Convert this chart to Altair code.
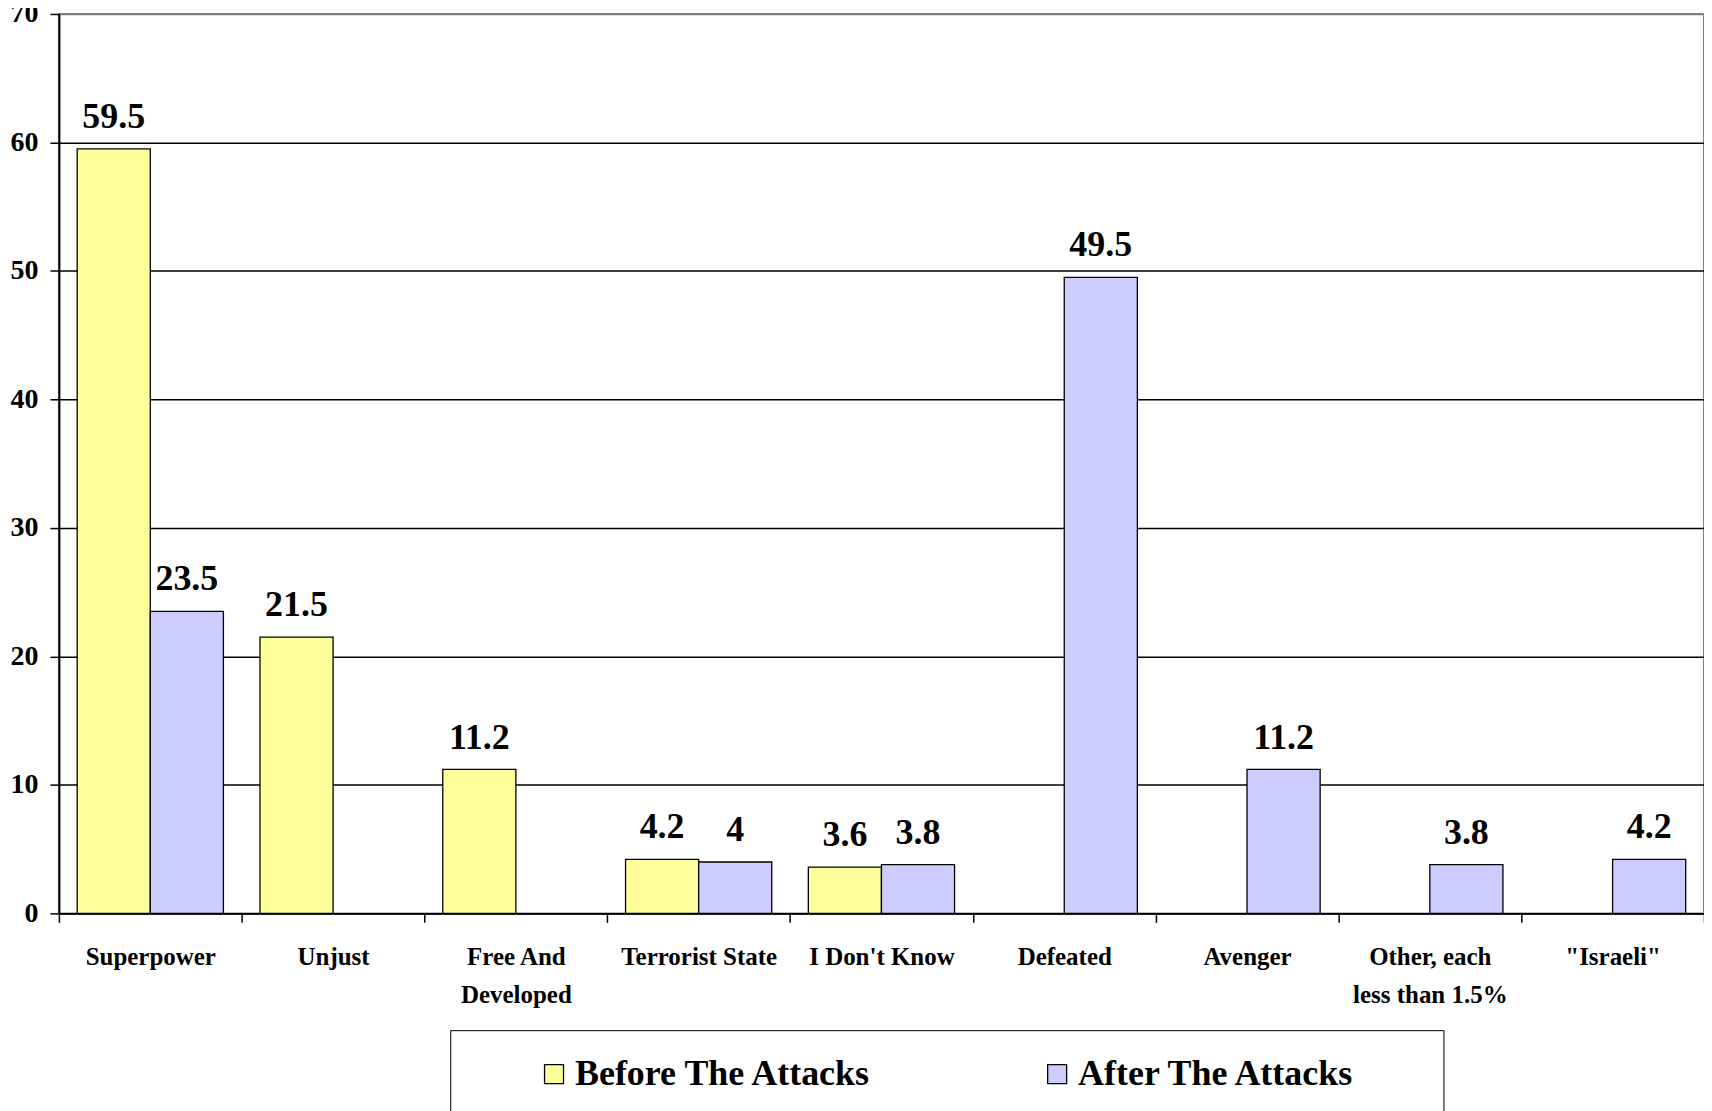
import altair as alt
import pandas as pd

categories = ["Superpower", "Unjust", "Free And|Developed", "Terrorist State", "I Don't Know",
              "Defeated", "Avenger", "Other, each|less than 1.5%", '"Israeli"']
series = ["Before The Attacks", "After The Attacks"]
before = [59.5, 21.5, 11.2, 4.2, 3.6, None, None, None, None]
after = [23.5, None, None, 4.0, 3.8, 49.5, 11.2, 3.8, 4.2]
colors = ["#FFFF99", "#CCCCFF"]

rows = []
for c, b, a in zip(categories, before, after):
    if b is not None:
        rows.append({"cat": c, "series": series[0], "value": b})
    if a is not None:
        rows.append({"cat": c, "series": series[1], "value": a})
df = pd.DataFrame(rows)

FONT = "Liberation Serif"
PAD_TAIL = "\u00a0" * 4 + "\u2800"

x = alt.X("cat:N", sort=categories, title=None,
          scale=alt.Scale(paddingInner=0, paddingOuter=0),
          axis=alt.Axis(labelAngle=0, tickBand="extent", labelExpr="split(datum.label, '|')",
                        labelLineHeight=38, labelPadding=22, grid=False, labelLimit=300))
xo = alt.XOffset("series:N", sort=series,
                 scale=alt.Scale(domain=series, paddingInner=0, paddingOuter=0.25))
y = alt.Y("value:Q", title=None,
          scale=alt.Scale(domain=[0, 70], nice=False),
          axis=alt.Axis(values=list(range(0, 71, 10)), grid=True,
                        gridColor=alt.condition("datum.value == 70", alt.value("#808080"), alt.value("black")),
                        gridWidth=1.5))

base = alt.Chart(df)

bars = base.mark_bar(stroke="black", strokeWidth=1.3).encode(
    x=x, xOffset=xo, y=y,
    color=alt.Color("series:N", sort=series, scale=alt.Scale(domain=series, range=colors),
                    legend=alt.Legend(orient="none", legendX=392, legendY=1018, direction="horizontal",
                                      title=" ", titleOrient="left", titlePadding=60, titleFontSize=11,
                                      symbolType="square", symbolSize=361, symbolStrokeColor="black",
                                      symbolStrokeWidth=1.3, symbolOpacity=1,
                                      labelFont=FONT, labelFontWeight="bold", labelFontSize=36,
                                      labelColor="black", labelOffset=3, labelLimit=800,
                                      labelExpr="datum.label == 'After The Attacks' ? datum.label + '" + PAD_TAIL + "' : datum.label",
                                      columnPadding=167, padding=26,
                                      strokeColor="black", fillColor="white")),
)

labels = base.mark_text(font=FONT, fontWeight="bold", fontSize=36, color="black",
                        baseline="alphabetic", dy=-21).encode(
    x=x, xOffset=xo, y=y, text=alt.Text("value:Q"))

chart = alt.layer(bars, labels).properties(
    width=1648, height=901,
    autosize=alt.AutoSizeParams(type="none"),
    padding={"left": 51, "top": 5, "right": 0, "bottom": 200},
).configure_view(
    stroke="#808080", strokeWidth=2
).configure_axisX(
    labelFont=FONT, labelFontWeight="bold", labelFontSize=25, labelColor="black",
    tickSize=9, tickColor="black", tickWidth=1.5, domainColor="black", domainWidth=2
).configure_axisY(
    labelFont=FONT, labelFontWeight="bold", labelFontSize=28, labelColor="black", labelPadding=12,
    tickSize=9, tickColor="black", tickWidth=1.5, domainColor="black", domainWidth=2
)

chart.save("out.html", embed_options={"renderer": "svg", "actions": False})
